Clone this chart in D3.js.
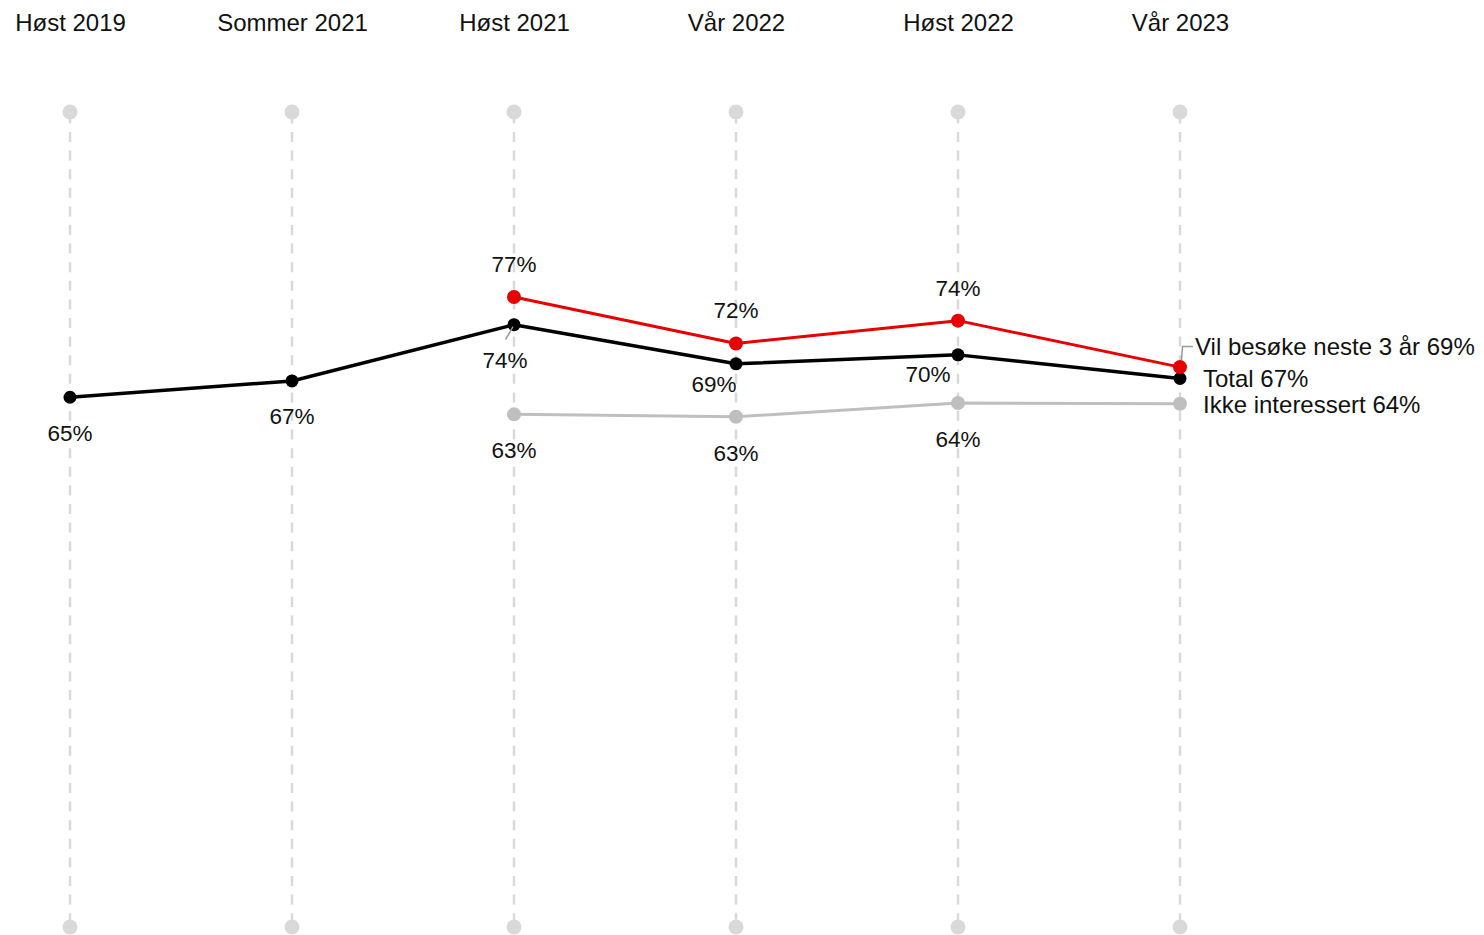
<!DOCTYPE html>
<html>
<head>
<meta charset="utf-8">
<script src="https://cdn.jsdelivr.net/npm/d3@7"></script>
<style>
  html, body { margin: 0; padding: 0; background: #fff; }
  svg { display: block; }
  text { font-family: "Liberation Sans", Arial, sans-serif; fill: #111; }
</style>
</head>
<body>
<svg id="chart" width="1484" height="935"></svg>
<script>
// ---- data ----
const categories = ["Høst 2019", "Sommer 2021", "Høst 2021", "Vår 2022", "Høst 2022", "Vår 2023"];
const totalValues = [65.0, 67.0, 73.9, 69.1, 70.2, 67.3];
const visitValues = [null, null, 77.3, 71.6, 74.4, 68.7];
const notInterestedValues = [null, null, 62.9, 62.6, 64.3, 64.2];
const seriesNames = ["Total", "Vil besøke neste 3 år", "Ikke interessert"];
const yDomain = [0, 100];

// ---- layout ----
const svg = d3.select("#chart");
const x = d3.scalePoint().domain(categories).range([70, 1180]);
const y = d3.scaleLinear().domain(yDomain).range([927, 112]);
const fmt = v => Math.round(v) + "%";

// column labels (top axis)
const axis = d3.axisTop(x).tickSize(0).tickPadding(0);
const axG = svg.append("g").attr("transform", "translate(0,31)").call(axis);
axG.select(".domain").remove();
axG.selectAll("text")
  .attr("dy", 0)
  .attr("font-size", 24)
  .attr("font-family", "'Liberation Sans', Arial, sans-serif")
  .attr("fill", "#111");

// dashed grid columns
const grid = svg.append("g");
grid.selectAll("line").data(categories).join("line")
  .attr("x1", d => x(d)).attr("x2", d => x(d))
  .attr("y1", y(yDomain[1])).attr("y2", y(yDomain[0]))
  .attr("stroke", "#d9d9d9").attr("stroke-width", 2.5)
  .attr("stroke-dasharray", "10,8.6").attr("stroke-dashoffset", -20);
grid.selectAll("circle.top").data(categories).join("circle")
  .attr("class", "top").attr("cx", d => x(d)).attr("cy", y(yDomain[1])).attr("r", 7.5)
  .attr("fill", "#d9d9d9");
grid.selectAll("circle.bot").data(categories).join("circle")
  .attr("class", "bot").attr("cx", d => x(d)).attr("cy", y(yDomain[0])).attr("r", 7.5)
  .attr("fill", "#d9d9d9");

function series(values) {
  return categories.map((c, i) => ({ c, v: values[i], i })).filter(d => d.v != null);
}

const line = d3.line().x(d => x(d.c)).y(d => y(d.v));

const defs = [
  { name: seriesNames[2], values: notInterestedValues, color: "#bfbfbf", width: 3, r: 7 },
  { name: seriesNames[0], values: totalValues, color: "#000000", width: 3.5, r: 6.5 },
  { name: seriesNames[1], values: visitValues, color: "#e60000", width: 3, r: 7 }
];

defs.forEach(s => {
  const pts = series(s.values);
  const g = svg.append("g");
  g.append("path").datum(pts).attr("d", line)
    .attr("fill", "none").attr("stroke", s.color).attr("stroke-width", s.width)
    .attr("stroke-linejoin", "round");
  g.selectAll("circle").data(pts).join("circle")
    .attr("cx", d => x(d.c)).attr("cy", d => y(d.v)).attr("r", s.r)
    .attr("fill", s.color);
});

// ---- value labels ----
const labelG = svg.append("g").attr("font-size", 22.5);
const last = categories.length - 1;

function label(xp, yp, txt, anchor) {
  labelG.append("text").attr("x", xp).attr("y", yp)
    .attr("text-anchor", anchor || "middle").text(txt);
}

// red: above
series(visitValues).forEach(d => {
  if (d.i === last) return;
  label(x(d.c), y(d.v) - 25, fmt(d.v));
});
// grey: below
series(notInterestedValues).forEach(d => {
  if (d.i === last) return;
  label(x(d.c), y(d.v) + 44, fmt(d.v));
});
// black: below, some shifted left to avoid overlap
const totalOffsets = [[0, 44], [0, 43.5], [-9, 43], [-22, 28], [-30, 27]];
series(totalValues).forEach(d => {
  if (d.i === last) return;
  const o = totalOffsets[d.i];
  label(x(d.c) + o[0], y(d.v) + o[1], fmt(d.v));
  if (d.i === 2) {
    labelG.append("line")
      .attr("x1", x(d.c) - 1).attr("y1", y(d.v) + 2)
      .attr("x2", x(d.c) - 8.5).attr("y2", y(d.v) + 15)
      .attr("stroke", "#999").attr("stroke-width", 1.5);
  }
});

// end labels
const lc = categories[last];
const endG = svg.append("g").attr("font-size", 24);
endG.append("path")
  .attr("d", `M${x(lc) + 1.5},${y(visitValues[last]) - 7} L${x(lc) + 2.5},${y(visitValues[last]) - 20.5} L${x(lc) + 13},${y(visitValues[last]) - 20.5}`)
  .attr("fill", "none").attr("stroke", "#999").attr("stroke-width", 1.5);
endG.append("text").attr("x", x(lc) + 15).attr("y", y(visitValues[last]) - 12)
  .text(seriesNames[1] + " " + fmt(visitValues[last]));
endG.append("text").attr("x", x(lc) + 23).attr("y", y(totalValues[last]) + 8)
  .text(seriesNames[0] + " " + fmt(totalValues[last]));
endG.append("text").attr("x", x(lc) + 23).attr("y", y(notInterestedValues[last]) + 9)
  .text(seriesNames[2] + " " + fmt(notInterestedValues[last]));
</script>
</body>
</html>
